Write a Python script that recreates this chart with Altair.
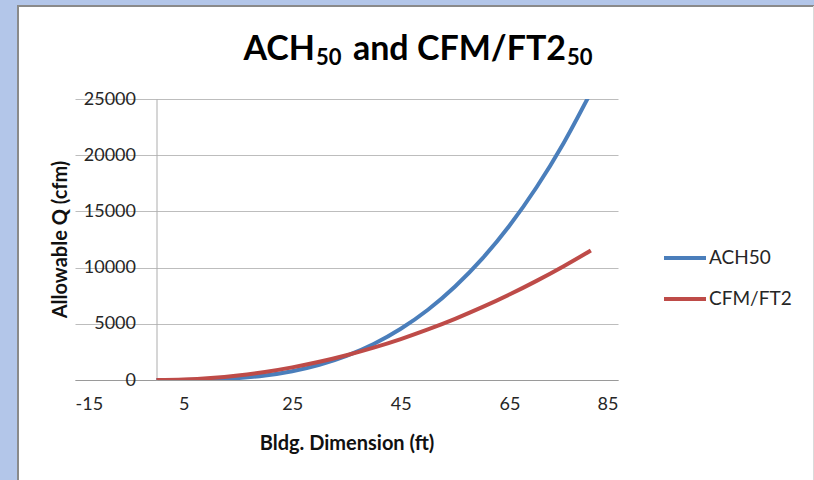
import altair as alt
import pandas as pd

# ---- data ----
dims = [0, 5, 10, 15, 20, 25, 30, 35, 40, 45, 50, 55, 60, 65, 70, 75, 80]
ach50 = [0, 6, 50, 169, 400, 781, 1350, 2144, 3200, 4556, 6250, 8319, 10800, 13731, 17150, 21094, 25600]
cfm_ft2 = [0, 45, 180, 405, 720, 1125, 1620, 2205, 2880, 3645, 4500, 5445, 6480, 7605, 8820, 10125, 11520]
series_names = ["ACH50", "CFM/FT2"]
series_colors = ["#4A7EBB", "#BE4B48"]
x_ticks = [-15, 5, 25, 45, 65, 85]
y_ticks = [0, 5000, 10000, 15000, 20000, 25000]
# title pieces: main text and subscripts
title_main = ["ACH", "and CFM/FT2"]
title_sub = ["50", "50"]

rows = []
for name, vals in zip(series_names, [ach50, cfm_ft2]):
    for d, v in zip(dims, vals):
        rows.append({"dim": d, "q": v, "series": name})
df = pd.DataFrame(rows)

FONT = "Lato"
W, H = 543, 281
PAD = {"left": 75, "top": 99, "right": 196, "bottom": 100}
FRAME_BLUE = "#B3C6E9"

x_scale = alt.Scale(domain=[-15, 85], nice=False, zero=False)
y_scale = alt.Scale(domain=[0, 25000], nice=False)

lines = alt.Chart(df).mark_line(strokeWidth=4, interpolate="monotone", clip=True).encode(
    x=alt.X("dim:Q", scale=x_scale,
            axis=alt.Axis(values=x_ticks, title="Bldg. Dimension (ft)", grid=False, ticks=False,
                          domainColor="#9A9A9A", labelPadding=15, labelFontSize=18, labelFont=FONT,
                          labelColor="#262626", labelExpr="'' + datum.value",
                          titleFont=FONT, titleFontSize=20, titleFontWeight="bold",
                          titleColor="#111111", titleY=63, titleBaseline="middle")),
    y=alt.Y("q:Q", scale=y_scale,
            axis=alt.Axis(values=y_ticks, offset=-81.5, title="Allowable Q (cfm)", grid=True,
                          gridColor="#BDBDBD", ticks=False, domainColor="#ADADAD", labelPadding=21,
                          labelFontSize=18, labelFont=FONT, labelColor="#262626",
                          labelExpr="'' + datum.value", titleFont=FONT,
                          titleFontSize=20, titleFontWeight="bold", titleColor="#111111",
                          titleX=-96, titleY=140, titleAngle=-90, titleBaseline="middle", titleAlign="center")),
    color=alt.Color("series:N", scale=alt.Scale(domain=series_names, range=series_colors),
                    legend=alt.Legend(title=None, orient="none", legendX=587, legendY=136,
                                      symbolType="stroke", symbolSize=1764, symbolStrokeWidth=4,
                                      labelFontSize=19, labelFont=FONT, labelColor="#262626",
                                      labelOffset=1, rowPadding=8, padding=0)),
)

# title built from pieces so the subscripts can be sized like the reference
t_ach = alt.Chart(alt.Data(values=[{"t": title_main[0]}])).mark_text(
    font=FONT, fontSize=34, fontWeight="bold", color="#000000", align="right",
    baseline="alphabetic", clip=False).encode(text="t:N", x=alt.value(240), y=alt.value(-39))
t_sub1 = alt.Chart(alt.Data(values=[{"t": title_sub[0]}])).mark_text(
    font=FONT, fontSize=22, fontWeight="bold", color="#000000", align="left",
    baseline="alphabetic", clip=False).encode(text="t:N", x=alt.value(241), y=alt.value(-34))
t_rest = alt.Chart(alt.Data(values=[{"t": title_main[1]}])).mark_text(
    font=FONT, fontSize=34, fontWeight="bold", color="#000000", align="right",
    baseline="alphabetic", clip=False).encode(text="t:N", x=alt.value(491), y=alt.value(-39))
t_sub2 = alt.Chart(alt.Data(values=[{"t": title_sub[1]}])).mark_text(
    font=FONT, fontSize=22, fontWeight="bold", color="#000000", align="left",
    baseline="alphabetic", clip=False).encode(text="t:N", x=alt.value(492), y=alt.value(-34))

one = alt.Data(values=[{"k": 1}])
left_strip = alt.Chart(one).mark_rect(color=FRAME_BLUE, clip=False).encode(
    x=alt.value(-75), x2=alt.value(-58), y=alt.value(-99), y2=alt.value(381))
top_strip = alt.Chart(one).mark_rect(color=FRAME_BLUE, clip=False).encode(
    x=alt.value(-75), x2=alt.value(739), y=alt.value(-99), y2=alt.value(-94))
border = alt.Chart(one).mark_rect(fillOpacity=0, stroke="#8A8A8A", strokeWidth=2, clip=False).encode(
    x=alt.value(-57), x2=alt.value(760), y=alt.value(-93), y2=alt.value(400))
right_edge = alt.Chart(one).mark_rule(color="#DADADA", strokeWidth=1, clip=False).encode(
    x=alt.value(738.5), y=alt.value(-93), y2=alt.value(381))

chart = alt.layer(left_strip, top_strip, border, right_edge,
                  t_ach, t_sub1, t_rest, t_sub2, lines).properties(
    width=W, height=H, autosize="none", padding=PAD,
).configure(background="white").configure_view(stroke=None)

chart.save("out.html", embed_options={"renderer": "svg", "actions": False})
